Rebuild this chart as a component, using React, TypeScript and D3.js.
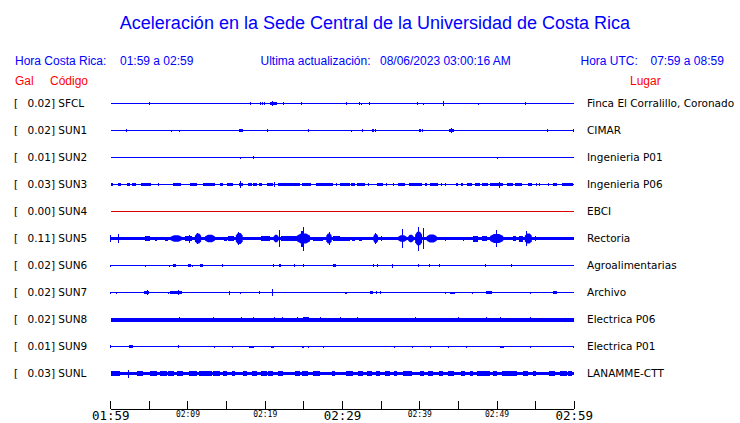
import React from "react";
import * as d3 from "d3";

type Ev = [number, number, number]; // [startMinute, endMinute, amplitude gal]

const STATIONS = ["SFCL", "SUN1", "SUN2", "SUN3", "SUN4", "SUN5", "SUN6", "SUN7", "SUN8", "SUN9", "SUNL"];
const PEAKS = ["0.02", "0.02", "0.01", "0.03", "0.00", "0.11", "0.02", "0.02", "0.02", "0.01", "0.03"];
const PLACES = ["Finca El Corralillo, Coronado", "CIMAR", "Ingenieria P01", "Ingenieria P06", "EBCI", "Rectoria", "Agroalimentarias", "Archivo", "Electrica P06", "Electrica P01", "LANAMME-CTT"];
const NOISE = [0.005, 0.0065, 0.005, 0.005, 0.005, 0.018, 0.005, 0.005, 0.02, 0.005, 0.017];
const TRACE_COLORS = ["#0000ff", "#0000ff", "#0000ff", "#0000ff", "#dd0000", "#0000ff", "#0000ff", "#0000ff", "#0000ff", "#0000ff", "#0000ff"];

const SFCL: Ev[] = [[5.0,5.0,0.012],[18.07,18.07,0.012],[19.36,19.36,0.015],[19.6,19.6,0.012],[19.93,19.93,0.015],[20.6,21.5,0.013],[21.0,21.0,0.024],[22.4,22.4,0.015],[24.67,24.67,0.015],[30.5,30.5,0.015],[32.17,32.17,0.012],[32.4,32.4,0.01],[33.47,33.47,0.012],[39.68,39.68,0.012],[40.45,40.45,0.01],[43.1,43.2,0.025],[47.57,47.57,0.01],[53.66,53.66,0.015]];
const SUN1: Ev[] = [[0.34,0.34,0.008],[2.0,2.0,0.015],[3.05,3.05,0.008],[7.84,7.84,0.01],[8.88,8.88,0.01],[15.2,15.2,0.008],[16.6,17.1,0.015],[20.27,20.27,0.015],[25.6,25.6,0.015],[31.2,31.2,0.01],[32.56,32.56,0.015],[33.8,34.1,0.015],[34.33,34.33,0.015],[37.87,37.87,0.008],[39.9,40.15,0.015],[40.4,40.4,0.015],[43.8,44.47,0.015],[44.1,44.1,0.025],[45.5,45.5,0.008],[49.9,49.9,0.008],[51.2,51.2,0.008],[53.0,53.0,0.008],[56.5,56.5,0.015],[59.9,60,0.015]];
const SUN2: Ev[] = [[16.77,16.77,0.01],[18.45,18.45,0.015],[50.03,50.03,0.01]];
const SUN3: Ev[] = [[0,0.35,0.013],[0.99,1.29,0.013],[2.15,2.5,0.013],[2.71,3.27,0.013],[3.88,5.17,0.013],[6.17,6.17,0.013],[8.1,9.05,0.013],[10.26,11.2,0.013],[11.99,13.5,0.013],[14.15,14.58,0.013],[15.1,15.87,0.013],[16.65,17.08,0.013],[16.78,16.78,0.032],[17.81,18.24,0.013],[18.46,18.89,0.013],[19.24,19.54,0.013],[20.18,21.05,0.013],[21.26,21.26,0.022],[21.69,24.5,0.013],[24.72,25.88,0.013],[26.57,28.81,0.013],[29.16,29.33,0.013],[29.68,30.97,0.013],[31.1,31.62,0.013],[31.84,32.91,0.013],[33.34,33.34,0.013],[34.42,35.28,0.013],[35.72,35.72,0.013],[36.58,36.58,0.013],[37.22,38.09,0.013],[38.65,40.25,0.013],[40.68,40.98,0.013],[41.32,42.4,0.013],[42.84,42.84,0.013],[43.39,43.39,0.013],[44.69,45.0,0.013],[45.29,45.55,0.013],[46.07,46.72,0.013],[47.15,47.79,0.013],[48.01,48.87,0.013],[49.09,50.81,0.013],[50.3,50.3,0.03],[51.25,52.11,0.013],[52.32,53.19,0.013],[54.05,54.48,0.013],[55.13,55.13,0.013],[55.56,55.56,0.013],[56.64,56.64,0.013],[57.29,57.72,0.013],[58.37,59.88,0.013]];
const SUN4: Ev[] = [];
const SUN5: Ev[] = [[0,0.1,0.037],[1.0,1.0,0.047],[4.5,5.1,0.023],[5.7,5.95,0.02],[7.0,7.46,0.02],[7.76,9.2,0.033],[9.6,10.5,0.027],[10.2,10.2,0.04],[10.9,11.7,0.05],[11.25,11.25,0.058],[12.2,13.5,0.037],[14.6,15.0,0.02],[15.2,15.9,0.025],[16.2,17.08,0.055],[16.5,16.5,0.067],[19.5,20.6,0.025],[21.1,21.7,0.037],[21.9,21.9,0.083],[22.1,24.1,0.025],[24.1,25.8,0.05],[24.6,24.9,0.08],[25.0,25.0,0.12],[26.2,27.5,0.02],[27.9,28.6,0.05],[28.3,28.3,0.063],[28.8,29.7,0.025],[29.7,31.0,0.02],[31.2,31.6,0.02],[32.1,32.5,0.02],[34.0,34.6,0.045],[34.3,34.3,0.053],[35.1,35.1,0.025],[37.2,38.3,0.033],[37.8,37.8,0.097],[38.5,39.2,0.037],[39.4,40.3,0.067],[39.8,39.8,0.12],[40.5,40.5,0.105],[40.9,42.2,0.04],[43.3,43.3,0.02],[45.6,45.6,0.02],[46.9,47.5,0.03],[48.0,48.7,0.025],[49.1,50.8,0.045],[49.95,49.95,0.087],[52.1,52.5,0.025],[52.9,53.4,0.03],[53.6,54.5,0.05],[53.85,53.85,0.075],[55.0,55.0,0.025],[56.2,56.2,0.018],[57.3,58.0,0.018]];
const SUN6: Ev[] = [[0,0,0.01],[0.25,0.25,0.008],[4.49,4.49,0.01],[7.59,7.59,0.01],[8.1,8.4,0.015],[10.05,10.35,0.015],[10.6,10.6,0.01],[11.56,11.99,0.015],[14.53,14.53,0.012],[16.95,16.95,0.008],[21.05,21.05,0.012],[21.8,22.0,0.015],[23.85,23.85,0.012],[25.0,25.0,0.012],[25.7,25.7,0.008],[26.35,26.35,0.008],[28.8,29.2,0.015],[34.0,34.0,0.012],[34.55,34.55,0.012],[36.45,36.45,0.02],[39.86,39.86,0.012],[41.2,41.2,0.012],[42.6,42.6,0.012],[45.5,45.5,0.008],[48.5,48.5,0.012],[50.3,50.3,0.008],[51.9,51.9,0.012],[59.9,59.9,0.008]];
const SUN7: Ev[] = [[0,0,0.01],[0.7,0.7,0.01],[4.35,5.0,0.015],[4.8,4.8,0.023],[6.8,6.8,0.008],[7.46,7.46,0.01],[7.7,9.2,0.015],[8.8,8.8,0.025],[9.2,9.2,0.017],[15.35,15.35,0.02],[16.86,16.86,0.01],[19.3,19.3,0.015],[20.9,20.9,0.033],[21.5,21.5,0.008],[22.5,22.5,0.008],[24.9,24.9,0.008],[30.3,30.6,0.01],[33.6,34.0,0.015],[34.4,34.4,0.012],[34.9,34.9,0.012],[40.98,40.98,0.008],[43.3,43.3,0.01],[43.9,44.6,0.01],[46.85,46.85,0.01],[48.6,49.3,0.015],[50.3,50.3,0.008],[54.35,54.35,0.01],[57.2,57.7,0.012]];
const SUN8: Ev[] = [[8.85,8.85,0.026],[13.3,13.3,0.025],[16.95,16.95,0.022],[18.5,18.5,0.027],[21.2,21.2,0.025],[22.2,22.2,0.025],[24.15,24.15,0.024],[24.9,25.7,0.024],[27.1,27.1,0.027],[29.8,29.8,0.022],[31.9,31.9,0.024],[39.4,39.4,0.025],[45.0,45.0,0.025],[48.6,48.6,0.025],[50.4,50.4,0.024],[54.3,54.3,0.023]];
const SUN9: Ev[] = [[0,0,0.015],[1.9,1.9,0.008],[2.4,2.9,0.012],[5.0,5.0,0.008],[6.4,6.4,0.008],[8.7,8.85,0.012],[11.0,11.0,0.008],[13.4,13.4,0.01],[14.5,14.5,0.008],[15.8,15.8,0.01],[16.9,16.9,0.008],[17.9,18.5,0.01],[20.3,20.3,0.008],[20.7,21.1,0.01],[22.4,22.8,0.008],[24.8,25.0,0.01],[25.6,25.6,0.01],[27.5,27.5,0.01],[29.9,29.9,0.008],[32.2,32.2,0.008],[34.5,34.5,0.008],[36.7,36.7,0.01],[37.7,37.7,0.008],[39.0,39.0,0.01],[40.9,40.9,0.008],[41.45,41.45,0.01],[43.7,43.7,0.01],[45.1,45.1,0.008],[46.1,46.1,0.01],[48.2,48.2,0.008],[49.4,49.4,0.008],[50.4,50.9,0.01],[53.1,53.1,0.008],[54.3,54.3,0.01],[57.7,57.7,0.008],[59.9,59.9,0.01]];
const SUNL: Ev[] = [[0,1.2,0.027],[2.28,2.28,0.04],[3.36,4.22,0.027],[5.09,5.95,0.027],[6.38,7.24,0.027],[7.46,8.19,0.027],[8.62,9.4,0.027],[10.18,11.13,0.027],[11.39,13.07,0.027],[13.28,14.15,0.027],[14.49,15.01,0.027],[15.7,16.09,0.027],[17.17,17.6,0.027],[18.24,18.89,0.027],[19.45,20.18,0.027],[20.4,21.05,0.027],[21.7,22.26,0.027],[23.85,24.5,0.027],[24.8,25.58,0.027],[26.22,27.09,0.027],[28.6,29.03,0.027],[30.45,31.4,0.027],[32.05,32.7,0.027],[33.2,33.77,0.027],[34.34,34.85,0.027],[35.54,36.15,0.027],[36.67,37.01,0.027],[37.87,38.95,0.027],[40.03,40.55,0.027],[41.11,41.75,0.027],[42.49,43.05,0.027],[43.65,44.43,0.027],[45.38,45.85,0.027],[46.5,46.9,0.027],[47.36,49.09,0.027],[49.52,49.95,0.027],[50.6,52.54,0.027],[53.4,54.05,0.027],[54.7,55.1,0.027],[56.7,57.5,0.027],[58.15,59.0,0.027],[59.2,59.66,0.027]];
const EVENTS: Ev[][] = [SFCL, SUN1, SUN2, SUN3, SUN4, SUN5, SUN6, SUN7, SUN8, SUN9, SUNL];

const TICK_MINUTES = d3.range(0, 61, 5);
const LABEL_MINUTES = [0, 10, 20, 30, 40, 50, 60];
const LABEL_TEXTS = ["01:59", "02:09", "02:19", "02:29", "02:39", "02:49", "02:59"];
const LABEL_BIG = [true, false, false, true, false, false, true];

const BLUE = "#0000ff";
const RED = "#ff0000";
const SANS = "'Liberation Sans', Arial, sans-serif";
const DJ = "'DejaVu Sans', sans-serif";
const MONO = "'DejaVu Sans Mono', monospace";

export default function App() {
  const x = d3.scaleLinear().domain([0, 60]).range([110.7, 574.3]);
  const row = d3.scalePoint<string>().domain(STATIONS).range([103.5, 373.5]);
  const amp = d3.scaleLinear().domain([0, 0.12]).range([0, 12]);

  return (
    <svg width={740} height={423} style={{ position: "absolute", left: 0, top: 0, background: "#fff" }}>
      <rect width={740} height={423} fill="#fff" />
      <text x={375} y={29} textAnchor="middle" fill={BLUE} fontFamily={SANS} fontSize={18}>
        Aceleración en la Sede Central de la Universidad de Costa Rica
      </text>
      <g fill={BLUE} fontFamily={SANS} fontSize={12}>
        <text x={15} y={65}>Hora Costa Rica:</text>
        <text x={120} y={65}>01:59 a 02:59</text>
        <text x={260.5} y={65}>Ultima actualización:</text>
        <text x={380} y={65}>08/06/2023 03:00:16 AM</text>
        <text x={580.5} y={65}>Hora UTC:</text>
        <text x={650.5} y={65}>07:59 a 08:59</text>
      </g>
      <g fill={RED} fontFamily={SANS} fontSize={12}>
        <text x={15} y={85}>Gal</text>
        <text x={50} y={85}>Código</text>
        <text x={630} y={85}>Lugar</text>
      </g>
      {STATIONS.map((s, i) => {
        const yc = row(s)!;
        const n = Math.max(0.5, amp(NOISE[i]));
        const col = TRACE_COLORS[i];
        return (
          <g key={s}>
            <text x={14} y={yc + 3.5} fontFamily={DJ} fontSize={10.5} fill="#000">[</text>
            <text x={27.5} y={yc + 3.5} fontFamily={DJ} fontSize={10.5} fill="#000">{PEAKS[i]}] {s}</text>
            <text x={587} y={yc + 3.5} fontFamily={DJ} fontSize={10.5} fill="#000">{PLACES[i]}</text>
            <g fill={col} shapeRendering="crispEdges">
              <rect x={x(0)} y={yc - n} width={x(60) - x(0)} height={2 * n} />
              {EVENTS[i].map((e, j) => {
                const x0 = x(e[0]);
                const x1 = x(e[1]);
                const w = x1 - x0;
                const a = amp(e[2]);
                if (w < 1) {
                  return <rect key={j} x={x0 - 0.5} y={yc - a} width={1} height={2 * a} />;
                }
                if (a >= 3.2 && w > 3) {
                  const pts = [
                    [x0, yc - a * 0.55], [x0 + w * 0.3, yc - a], [x0 + w * 0.7, yc - a], [x1, yc - a * 0.55],
                    [x1, yc + a * 0.55], [x0 + w * 0.7, yc + a], [x0 + w * 0.3, yc + a], [x0, yc + a * 0.55],
                  ];
                  return <polygon key={j} points={pts.map((p) => p.join(",")).join(" ")} shapeRendering="auto" />;
                }
                return <rect key={j} x={x0} y={yc - a} width={w} height={2 * a} />;
              })}
            </g>
          </g>
        );
      })}
      <g stroke="#000" strokeWidth={1} shapeRendering="crispEdges">
        <line x1={x(0)} x2={x(60)} y1={409} y2={409} />
        {TICK_MINUTES.map((m) => (
          <line key={m} x1={x(m)} x2={x(m)} y1={401} y2={409} />
        ))}
      </g>
      {LABEL_MINUTES.map((m, i) => (
        <text key={m} x={x(m)} y={LABEL_BIG[i] ? 420 : 417} textAnchor="middle" fontFamily={MONO} fontSize={LABEL_BIG[i] ? 12.5 : 8} fill="#000">
          {LABEL_TEXTS[i]}
        </text>
      ))}
    </svg>
  );
}
